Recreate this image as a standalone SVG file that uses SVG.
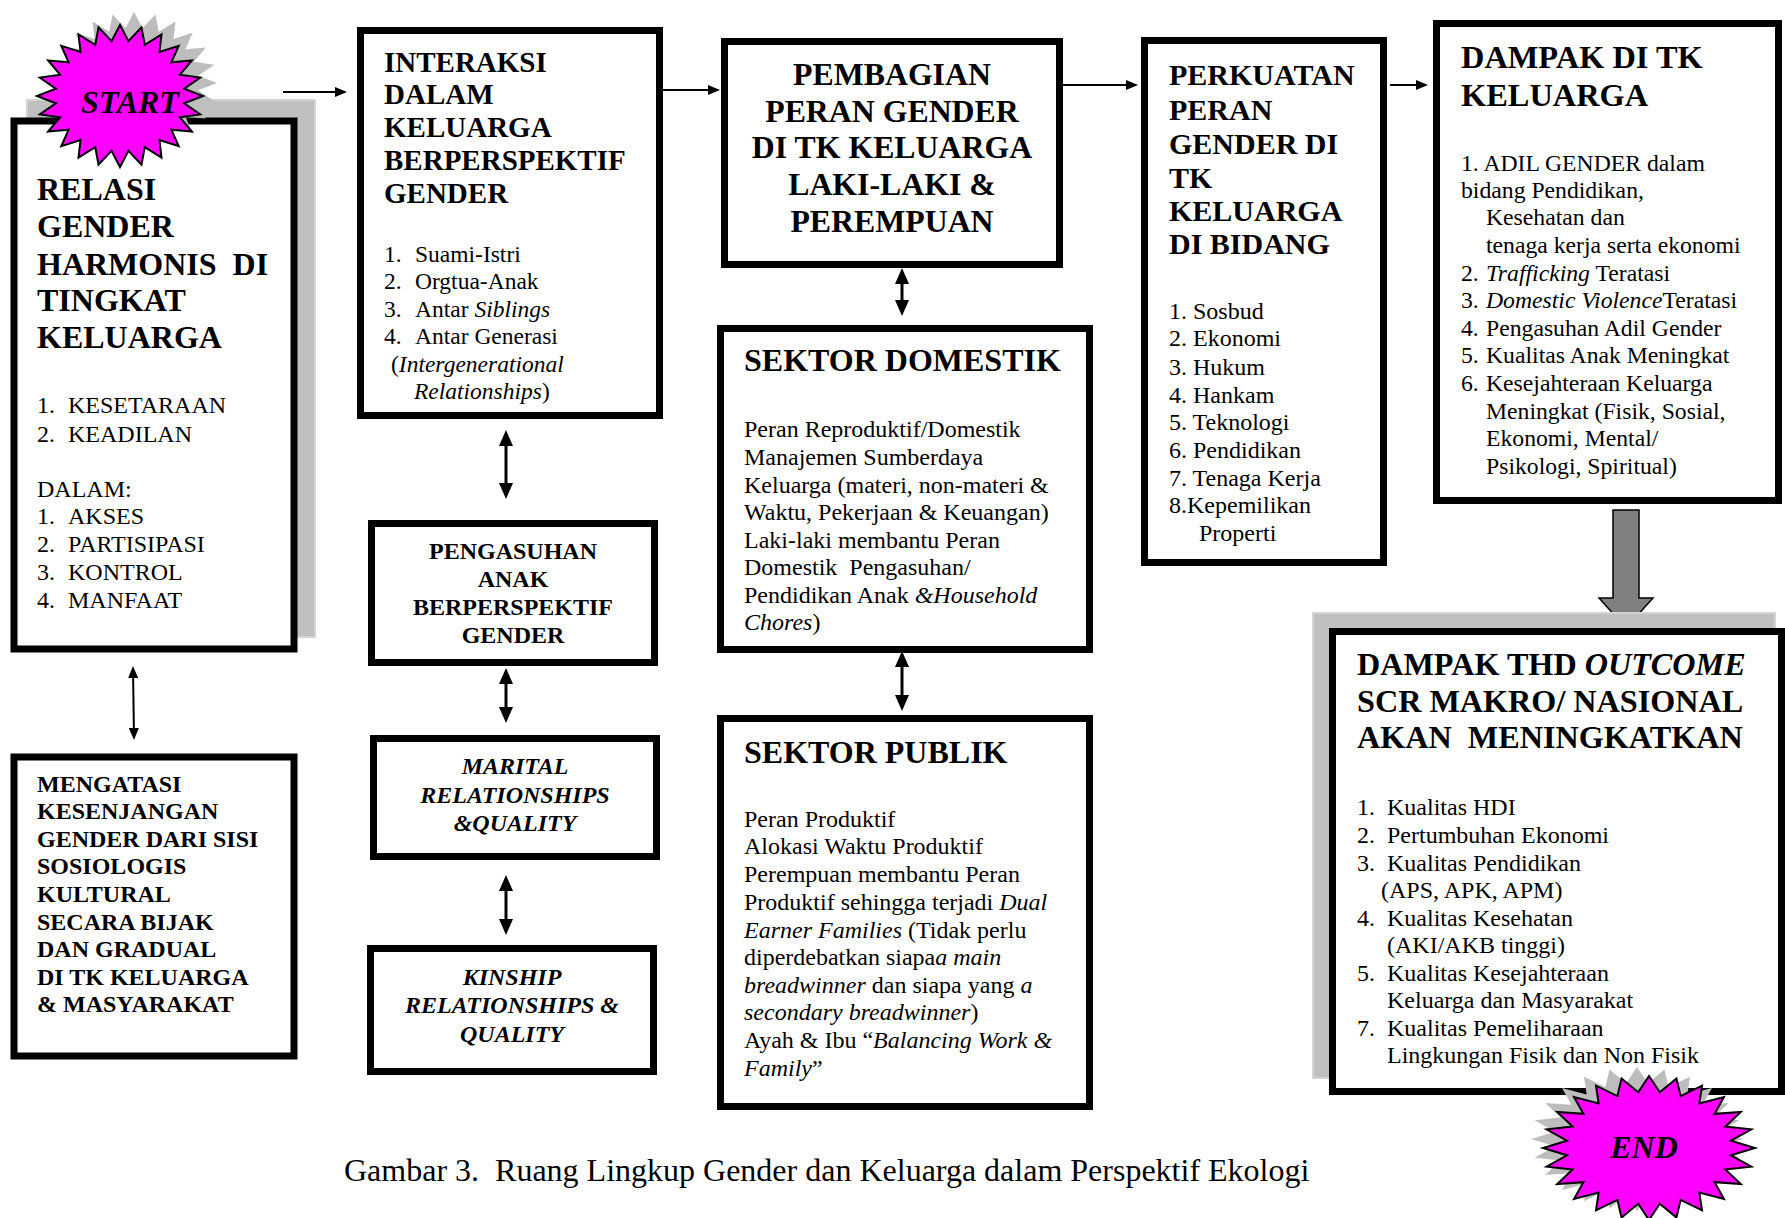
<svg xmlns="http://www.w3.org/2000/svg" xmlns:xlink="http://www.w3.org/1999/xlink" width="1785" height="1218" viewBox="0 0 1785 1218">
<style>
text{font-family:"Liberation Serif","Times New Roman",serif;fill:#000}
.h{font-weight:bold}
.i{font-style:italic}
.box{fill:#fff;stroke:#000;stroke-width:7}
.shadow{fill:#c0c0c0;stroke:#d4d4d4;stroke-width:2}
.ln{stroke:#000;stroke-width:2;fill:none}
.lnv{stroke:#000;stroke-width:3;fill:none}
.star{fill:#ff00ff;stroke:#000;stroke-width:2}
.starsh{fill:#bdbdbd}
.c{text-anchor:middle}
</style>
<defs>
<marker id="ah" viewBox="0 0 12 10" refX="10" refY="5" markerWidth="12" markerHeight="10" markerUnits="userSpaceOnUse" orient="auto-start-reverse"><path d="M0,0 L12,5 L0,10 z" fill="#000"/></marker>
<marker id="ahv" viewBox="0 0 16 14" refX="12" refY="7" markerWidth="16" markerHeight="14" markerUnits="userSpaceOnUse" orient="auto-start-reverse"><path d="M0,0 L16,7 L0,14 z" fill="#000"/></marker>
<polygon id="s24" points="0,-100 10.18,-77.33 25.88,-96.59 29.85,-72.06 50,-86.6 47.49,-61.89 70.71,-70.71 61.89,-47.49 86.6,-50 72.06,-29.85 96.59,-25.88 77.33,-10.18 100,0 77.33,10.18 96.59,25.88 72.06,29.85 86.6,50 61.89,47.49 70.71,70.71 47.49,61.89 50,86.6 29.85,72.06 25.88,96.59 10.18,77.33 0,100 -10.18,77.33 -25.88,96.59 -29.85,72.06 -50,86.6 -47.49,61.89 -70.71,70.71 -61.89,47.49 -86.6,50 -72.06,29.85 -96.59,25.88 -77.33,10.18 -100,0 -77.33,-10.18 -96.59,-25.88 -72.06,-29.85 -86.6,-50 -61.89,-47.49 -70.71,-70.71 -47.49,-61.89 -50,-86.6 -29.85,-72.06 -25.88,-96.59 -10.18,-77.33" vector-effect="non-scaling-stroke"/>
</defs>
<rect width="1785" height="1218" fill="#fff"/>

<g id="connectors">
<line class="ln" x1="283" y1="92" x2="345" y2="92" marker-end="url(#ah)"/>
<line class="ln" x1="663" y1="90" x2="718" y2="90" marker-end="url(#ah)"/>
<line class="ln" x1="1063" y1="85" x2="1136" y2="85" marker-end="url(#ah)"/>
<line class="ln" x1="1390" y1="85" x2="1426" y2="85" marker-end="url(#ah)"/>
<line class="ln" x1="133" y1="668" x2="134" y2="738" marker-start="url(#ah)" marker-end="url(#ah)"/>
<line class="lnv" x1="506" y1="434" x2="506" y2="495" marker-start="url(#ahv)" marker-end="url(#ahv)"/>
<line class="lnv" x1="506" y1="672" x2="506" y2="719" marker-start="url(#ahv)" marker-end="url(#ahv)"/>
<line class="lnv" x1="506" y1="879" x2="506" y2="931" marker-start="url(#ahv)" marker-end="url(#ahv)"/>
<line class="lnv" x1="902" y1="272" x2="902" y2="312" marker-start="url(#ahv)" marker-end="url(#ahv)"/>
<line class="lnv" x1="902" y1="655" x2="902" y2="707" marker-start="url(#ahv)" marker-end="url(#ahv)"/>
<polygon points="1613,510 1639,510 1639,598 1653,598 1626,628 1599,598 1613,598" fill="#808080" stroke="#000" stroke-width="1.5"/>
</g>

<g id="relasi">
<rect class="shadow" x="27" y="100" width="288" height="537"/>
<rect class="box" x="14" y="121" width="280" height="528" stroke-width="8"/>
<text class="h" font-size="32" xml:space="preserve"><tspan x="37" y="200">RELASI</tspan><tspan x="37" y="237">GENDER</tspan><tspan x="37" y="275">HARMONIS  DI</tspan><tspan x="37" y="311">TINGKAT</tspan><tspan x="37" y="348">KELUARGA</tspan></text>
<text font-size="24"><tspan x="37" y="413">1.</tspan><tspan x="68" y="413">KESETARAAN</tspan><tspan x="37" y="442">2.</tspan><tspan x="68" y="442">KEADILAN</tspan><tspan x="37" y="497">DALAM:</tspan><tspan x="37" y="524">1.</tspan><tspan x="68" y="524">AKSES</tspan><tspan x="37" y="552">2.</tspan><tspan x="68" y="552">PARTISIPASI</tspan><tspan x="37" y="580">3.</tspan><tspan x="68" y="580">KONTROL</tspan><tspan x="37" y="608">4.</tspan><tspan x="68" y="608">MANFAAT</tspan></text>
</g>

<g id="start">
<use xlink:href="#s24" class="starsh" transform="translate(134,83) scale(0.83,0.71)"/>
<use xlink:href="#s24" class="star" transform="translate(120,96) scale(0.83,0.71)"/>
<text class="h i c" font-size="32" x="130" y="113">START</text>
</g>

<g id="mengatasi">
<rect class="box" x="14" y="757" width="280" height="299" stroke-width="8"/>
<text class="h" font-size="24"><tspan x="37" y="792">MENGATASI</tspan><tspan x="37" y="819">KESENJANGAN</tspan><tspan x="37" y="847">GENDER DARI SISI</tspan><tspan x="37" y="874">SOSIOLOGIS</tspan><tspan x="37" y="902">KULTURAL</tspan><tspan x="37" y="930">SECARA BIJAK</tspan><tspan x="37" y="957">DAN GRADUAL</tspan><tspan x="37" y="985">DI TK KELUARGA</tspan><tspan x="37" y="1012">&amp; MASYARAKAT</tspan></text>
</g>

<g id="interaksi">
<rect class="box" x="360.5" y="30.5" width="299" height="385"/>
<text class="h" font-size="29"><tspan x="384" y="72">INTERAKSI</tspan><tspan x="384" y="104">DALAM</tspan><tspan x="384" y="137">KELUARGA</tspan><tspan x="384" y="170">BERPERSPEKTIF</tspan><tspan x="384" y="203">GENDER</tspan></text>
<text font-size="23.5"><tspan x="384" y="262">1.</tspan><tspan x="415" y="262">Suami-Istri</tspan><tspan x="384" y="289">2.</tspan><tspan x="415" y="289">Orgtua-Anak</tspan><tspan x="384" y="317">3.</tspan><tspan x="415" y="317">Antar <tspan class="i">Siblings</tspan></tspan><tspan x="384" y="344">4.</tspan><tspan x="415" y="344">Antar Generasi</tspan><tspan x="391" y="372">(<tspan class="i">Intergenerational</tspan></tspan><tspan x="414" y="399"><tspan class="i">Relationships</tspan>)</tspan></text>
</g>

<g id="pengasuhan">
<rect class="box" x="371.5" y="523.5" width="283" height="139"/>
<text class="h c" font-size="24"><tspan x="513" y="559">PENGASUHAN</tspan><tspan x="513" y="587">ANAK</tspan><tspan x="513" y="615">BERPERSPEKTIF</tspan><tspan x="513" y="643">GENDER</tspan></text>
</g>

<g id="marital">
<rect class="box" x="373.5" y="738.5" width="283" height="118"/>
<text class="h i c" font-size="24"><tspan x="515" y="774">MARITAL</tspan><tspan x="515" y="803">RELATIONSHIPS</tspan><tspan x="515" y="831">&amp;QUALITY</tspan></text>
</g>

<g id="kinship">
<rect class="box" x="370.5" y="948.5" width="283" height="123"/>
<text class="h i c" font-size="24"><tspan x="512" y="985">KINSHIP</tspan><tspan x="512" y="1013">RELATIONSHIPS &amp;</tspan><tspan x="512" y="1042">QUALITY</tspan></text>
</g>

<g id="pembagian">
<rect class="box" x="724.5" y="41.5" width="335" height="223"/>
<text class="h c" font-size="31.8"><tspan x="892" y="85">PEMBAGIAN</tspan><tspan x="892" y="122">PERAN GENDER</tspan><tspan x="892" y="158">DI TK KELUARGA</tspan><tspan x="892" y="195">LAKI-LAKI &amp;</tspan><tspan x="892" y="232">PEREMPUAN</tspan></text>
</g>

<g id="domestik">
<rect class="box" x="720.5" y="328.5" width="369" height="321"/>
<text class="h" font-size="32" x="744" y="371">SEKTOR DOMESTIK</text>
<text font-size="24" xml:space="preserve"><tspan x="744" y="437">Peran Reproduktif/Domestik</tspan><tspan x="744" y="465">Manajemen Sumberdaya</tspan><tspan x="744" y="493">Keluarga (materi, non-materi &amp;</tspan><tspan x="744" y="520">Waktu, Pekerjaan &amp; Keuangan)</tspan><tspan x="744" y="548">Laki-laki membantu Peran</tspan><tspan x="744" y="575">Domestik  Pengasuhan/</tspan><tspan x="744" y="603">Pendidikan Anak <tspan class="i">&amp;Household</tspan></tspan><tspan x="744" y="630"><tspan class="i">Chores</tspan>)</tspan></text>
</g>

<g id="publik">
<rect class="box" x="720.5" y="718.5" width="369" height="388"/>
<text class="h" font-size="32" x="744" y="763">SEKTOR PUBLIK</text>
<text font-size="24"><tspan x="744" y="827">Peran Produktif</tspan><tspan x="744" y="854">Alokasi Waktu Produktif</tspan><tspan x="744" y="882">Perempuan membantu Peran</tspan><tspan x="744" y="910">Produktif sehingga terjadi <tspan class="i">Dual</tspan></tspan><tspan x="744" y="938"><tspan class="i">Earner Families</tspan> (Tidak perlu</tspan><tspan x="744" y="965">diperdebatkan siapa<tspan class="i">a main</tspan></tspan><tspan x="744" y="993"><tspan class="i">breadwinner</tspan> dan siapa yang <tspan class="i">a</tspan></tspan><tspan x="744" y="1020"><tspan class="i">secondary breadwinner</tspan>)</tspan><tspan x="744" y="1048">Ayah &amp; Ibu “<tspan class="i">Balancing Work &amp;</tspan></tspan><tspan x="744" y="1076"><tspan class="i">Family</tspan>”</tspan></text>
</g>

<g id="perkuatan">
<rect class="box" x="1144.5" y="40.5" width="239" height="522"/>
<text class="h" font-size="30"><tspan x="1169" y="85">PERKUATAN</tspan><tspan x="1169" y="120">PERAN</tspan><tspan x="1169" y="154">GENDER DI</tspan><tspan x="1169" y="188">TK</tspan><tspan x="1169" y="221">KELUARGA</tspan><tspan x="1169" y="254">DI BIDANG</tspan></text>
<text font-size="24"><tspan x="1169" y="319">1. Sosbud</tspan><tspan x="1169" y="346">2. Ekonomi</tspan><tspan x="1169" y="375">3. Hukum</tspan><tspan x="1169" y="403">4. Hankam</tspan><tspan x="1169" y="430">5. Teknologi</tspan><tspan x="1169" y="458">6. Pendidikan</tspan><tspan x="1169" y="486">7. Tenaga Kerja</tspan><tspan x="1169" y="513">8.Kepemilikan</tspan><tspan x="1199" y="541">Properti</tspan></text>
</g>

<g id="dampak-keluarga">
<rect class="box" x="1436.5" y="23.5" width="342" height="477"/>
<text class="h" font-size="32.4"><tspan x="1461" y="68">DAMPAK DI TK</tspan><tspan x="1461" y="106">KELUARGA</tspan></text>
<text font-size="23.7"><tspan x="1461" y="171">1. ADIL GENDER dalam</tspan><tspan x="1461" y="198">bidang Pendidikan,</tspan><tspan x="1486" y="225">Kesehatan dan</tspan><tspan x="1486" y="253">tenaga kerja serta ekonomi</tspan><tspan x="1461" y="281">2.</tspan><tspan x="1486" y="281"><tspan class="i">Trafficking</tspan> Teratasi</tspan><tspan x="1461" y="308">3.</tspan><tspan x="1486" y="308"><tspan class="i">Domestic Violence</tspan>Teratasi</tspan><tspan x="1461" y="336">4.</tspan><tspan x="1486" y="336">Pengasuhan Adil Gender</tspan><tspan x="1461" y="363">5.</tspan><tspan x="1486" y="363">Kualitas Anak Meningkat</tspan><tspan x="1461" y="391">6.</tspan><tspan x="1486" y="391">Kesejahteraan Keluarga</tspan><tspan x="1486" y="419">Meningkat (Fisik, Sosial,</tspan><tspan x="1486" y="446">Ekonomi, Mental/</tspan><tspan x="1486" y="474">Psikologi, Spiritual)</tspan></text>
</g>

<g id="dampak-outcome">
<rect class="shadow" x="1313" y="613" width="462" height="465"/>
<rect class="box" x="1332.5" y="631.5" width="449" height="460"/>
<text class="h" font-size="32.2" xml:space="preserve"><tspan x="1357" y="675">DAMPAK THD <tspan class="i">OUTCOME</tspan></tspan><tspan x="1357" y="712">SCR MAKRO/ NASIONAL</tspan><tspan x="1357" y="748">AKAN  MENINGKATKAN</tspan></text>
<text font-size="24"><tspan x="1357" y="815">1.</tspan><tspan x="1387" y="815">Kualitas HDI</tspan><tspan x="1357" y="843">2.</tspan><tspan x="1387" y="843">Pertumbuhan Ekonomi</tspan><tspan x="1357" y="871">3.</tspan><tspan x="1387" y="871">Kualitas Pendidikan</tspan><tspan x="1381" y="898">(APS, APK, APM)</tspan><tspan x="1357" y="926">4.</tspan><tspan x="1387" y="926">Kualitas Kesehatan</tspan><tspan x="1387" y="953">(AKI/AKB tinggi)</tspan><tspan x="1357" y="981">5.</tspan><tspan x="1387" y="981">Kualitas Kesejahteraan</tspan><tspan x="1387" y="1008">Keluarga dan Masyarakat</tspan><tspan x="1357" y="1036">7.</tspan><tspan x="1387" y="1036">Kualitas Pemeliharaan</tspan><tspan x="1387" y="1063">Lingkungan Fisik dan Non Fisik</tspan></text>
</g>

<g id="end">
<use xlink:href="#s24" class="starsh" transform="translate(1637,1139) scale(1.06,0.72)"/>
<use xlink:href="#s24" class="star" transform="translate(1649,1148) scale(1.06,0.72)"/>
<text class="h i c" font-size="32" x="1644" y="1158">END</text>
</g>

<g id="caption">
<text font-size="32" x="344" y="1181" xml:space="preserve">Gambar 3.  Ruang Lingkup Gender dan Keluarga dalam Perspektif Ekologi</text>
</g>
</svg>
